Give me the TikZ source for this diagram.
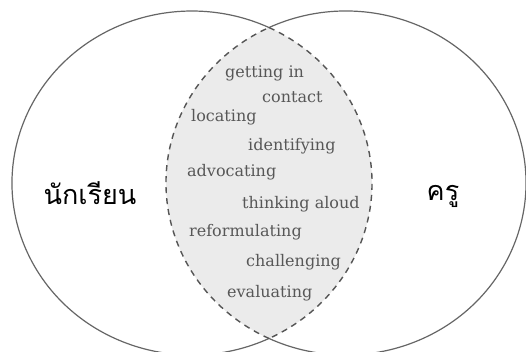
\documentclass[tikz,border=0pt]{standalone}
\usepackage{fontspec}
\setmainfont{DejaVu Serif}
\newfontfamily\thaifont[Script=Thai]{Loma}
\definecolor{ringgray}{HTML}{666666}
\definecolor{dashgray}{HTML}{555555}
\definecolor{lensfill}{HTML}{EBEBEB}
\definecolor{wordgray}{HTML}{575757}
\begin{document}
\begin{tikzpicture}[x=1pt,y=-1pt,
  ring/.style={draw=ringgray, line width=1.2pt},
  lensedge/.style={draw=dashgray, line width=1.4pt, dash pattern=on 6pt off 5pt},
  word/.style={text=wordgray, font=\fontsize{16}{18}\selectfont, anchor=west, inner sep=0pt},
  who/.style={font=\thaifont\fontsize{27}{31}\selectfont, text=black, inner sep=0pt}]
\useasboundingbox (0,0) rectangle (526,351);
\fill[white] (0,0) rectangle (526,351);
\clip (0,0) rectangle (526,351);
% shared region of the two rings
\begin{scope}
  \clip (192,183) ellipse [x radius=180, y radius=172];
  \fill[lensfill] (346,183) ellipse [x radius=180, y radius=172];
\end{scope}
% outer (solid) parts of the rings
\draw[ring] (192,183) ++(64.67:180 and 172)
  arc[start angle=64.67, end angle=295.33, x radius=180, y radius=172];
\draw[ring] (346,183) ++(-115.33:180 and 172)
  arc[start angle=-115.33, end angle=115.33, x radius=180, y radius=172];
% inner (dashed) parts of the rings
\draw[lensedge] (192,183) ++(-64.67:180 and 172)
  arc[start angle=-64.67, end angle=64.67, x radius=180, y radius=172];
\draw[lensedge] (346,183) ++(115.33:180 and 172)
  arc[start angle=115.33, end angle=244.67, x radius=180, y radius=172];
% shared activities
\node[word] (w1) at (225,73) {getting in};
\node[word] (w2) at (262,97) {contact};
\node[word] (w3) at (191,117) {locating};
\node[word] (w4) at (248,146) {identifying};
\node[word] (w5) at (187,172) {advocating};
\node[word] (w6) at (242,204) {thinking aloud};
\node[word] (w7) at (189,232) {reformulating};
\node[word] (w8) at (246,262) {challenging};
\node[word] (w9) at (227,293) {evaluating};
% the two parties
\node[who] (student) at (90,193) {นักเรียน};
\node[who] (teacher) at (443,196) {ครู};
\end{tikzpicture}
\end{document}
